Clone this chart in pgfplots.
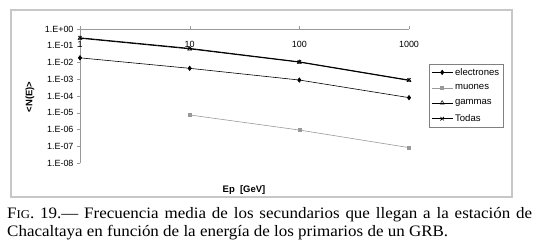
\documentclass[border=0pt]{standalone}
\usepackage{fontspec}
\setmainfont{Liberation Serif}
\newfontfamily\capfont[FakeStretch=1.065]{Liberation Serif}
\newfontfamily\arial{Liberation Sans}
\usepackage{pgfplots}
\pgfplotsset{compat=1.18}
\begin{document}
\begin{tikzpicture}[x=1bp,y=1bp]
\useasboundingbox (0,0) rectangle (537,-244);
\draw[color=black!22, line width=1.6bp] (11,-10) rectangle (512,-197);
\begin{axis}[
  at={(80bp,-163bp)}, anchor=south west, scale only axis,
  width=329bp, height=134bp,
  xmode=log, ymode=log, xmin=1, xmax=1000, ymin=1e-8, ymax=1,
  axis x line*=top, axis y line*=left,
  axis line style={draw=black!40},
  xminorticks=false, yminorticks=false,
  xtick={1,10,100,1000}, xticklabels={1,10,100,1000},
  ytick={1e-8,1e-7,1e-6,1e-5,1e-4,1e-3,1e-2,1e-1,1},
  yticklabels={1.E-08,1.E-07,1.E-06,1.E-05,1.E-04,1.E-03,1.E-02,1.E-01,1.E+00},
  tick style={draw=black!40}, major tick length=3bp, tick align=outside,
  ticklabel style={font=\arial\fontsize{9}{10}\selectfont},
  xticklabel style={anchor=north, yshift=-12bp},
  clip=false,
  legend style={at={(1.061,0.739)}, anchor=north west, draw=black!50,
    font=\arial\fontsize{9.6}{11}\selectfont, inner xsep=2bp, inner ysep=2bp, row sep=4.2bp},
  legend cell align=left,
  legend image code/.code={\draw[mark repeat=2,mark phase=2,#1] plot coordinates {(0bp,0bp) (10.5bp,0bp) (21bp,0bp)};},
]
\addplot[black, line width=0.6bp, mark=diamond*, mark size=2.2bp] coordinates {(1,0.019)(10,0.0045)(100,9e-4)(1000,8e-5)};
\addlegendentry{electrones}
\addplot[color=black!40, line width=0.6bp, mark=square*, mark size=1.5bp] coordinates {(10,7.4e-6)(100,9.3e-7)(1000,8.3e-8)};
\addlegendentry{muones}
\addplot[black, line width=0.8bp, mark=triangle, mark size=2.3bp, mark options={fill=white, line width=0.5bp}] coordinates {(1,0.28)(10,0.065)(100,0.0105)(1000,8.5e-4)};
\addlegendentry{gammas}
\addplot[black, line width=0.8bp, mark=x, mark size=2.5bp, mark options={line width=0.6bp}] coordinates {(1,0.3)(10,0.07)(100,0.011)(1000,9e-4)};
\addlegendentry{Todas}
\end{axis}
\node[rotate=90, font=\arial\bfseries\fontsize{9.5}{11}\selectfont] at (30,-97) {\textless N(E)\textgreater};
\node[font=\arial\bfseries\fontsize{9.5}{11}\selectfont] at (244,-190) {Ep\ \ [GeV]};
\node[anchor=north west, text width=525bp, align=justify, inner sep=0pt, font=\capfont\fontsize{16}{18}\selectfont] at (7,-207)
  {F{\fontsize{12}{18}\selectfont IG}. 19.— Frecuencia media de los secundarios que llegan a la estación de\linebreak Chacaltaya en función de la energía de los primarios de un GRB.};
\end{tikzpicture}
\end{document}
